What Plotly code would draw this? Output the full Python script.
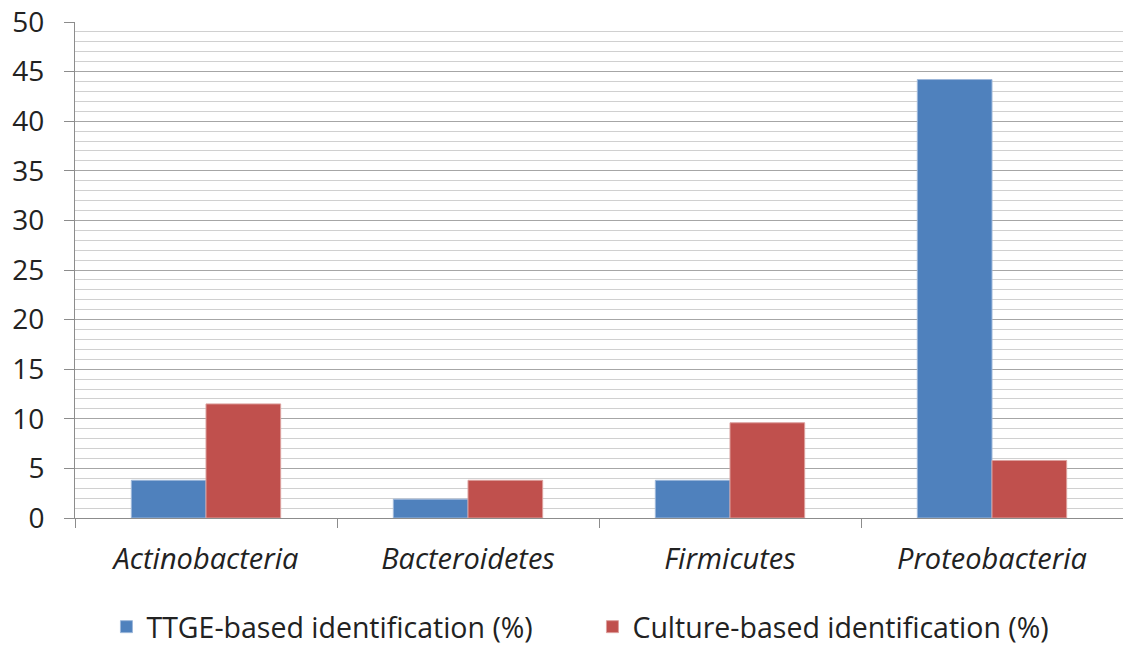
import plotly.graph_objects as go

categories = ["Actinobacteria", "Bacteroidetes", "Firmicutes", "Proteobacteria"]
ttge = [3.8, 1.9, 3.8, 44.2]
culture = [11.5, 3.8, 9.6, 5.8]
series_names = ["TTGE-based identification (%)", "Culture-based identification (%)"]
y_ticks = list(range(0, 51, 5))

FONT = "Open Sans"
fig = go.Figure()
fig.add_trace(go.Bar(x=categories, y=ttge, name=series_names[0],
                     marker=dict(color="#4F81BD", line=dict(color="#9DB7DA", width=1))))
fig.add_trace(go.Bar(x=categories, y=culture, name=series_names[1],
                     marker=dict(color="#C0504D", line=dict(color="#DCA09E", width=1))))

fig.update_layout(
    width=1123, height=649,
    margin=dict(l=75, r=0, t=22, b=131, autoexpand=False),
    plot_bgcolor="white", paper_bgcolor="white",
    barmode="group", bargap=0.43, bargroupgap=0,
    font=dict(family=FONT, size=28, color="#222222"),
    legend=dict(orientation="h", x=0.03, xanchor="left", y=-0.22, yanchor="middle",
                font=dict(size=28.5), itemwidth=30, entrywidth=441),
    showlegend=True,
)
fig.update_xaxes(
    showline=True, linecolor="#8c8c8c", linewidth=1,
    ticks="outside", ticklen=9, tickcolor="#8c8c8c", tickson="boundaries",
    tickfont=dict(family=FONT, size=29, style="italic"),
    ticklabelstandoff=15,
)
fig.update_yaxes(
    range=[0, 50], tickvals=y_ticks,
    showline=True, linecolor="#8c8c8c", linewidth=1,
    ticks="outside", ticklen=10, tickcolor="#8c8c8c",
    showgrid=True, gridcolor="#a6a6a6", gridwidth=1,
    minor=dict(dtick=1, showgrid=True, gridcolor="#d0d0d0", gridwidth=1),
    tickfont=dict(family=FONT, size=28),
    ticklabelstandoff=14, zeroline=False,
)
fig.write_html("out.html")
